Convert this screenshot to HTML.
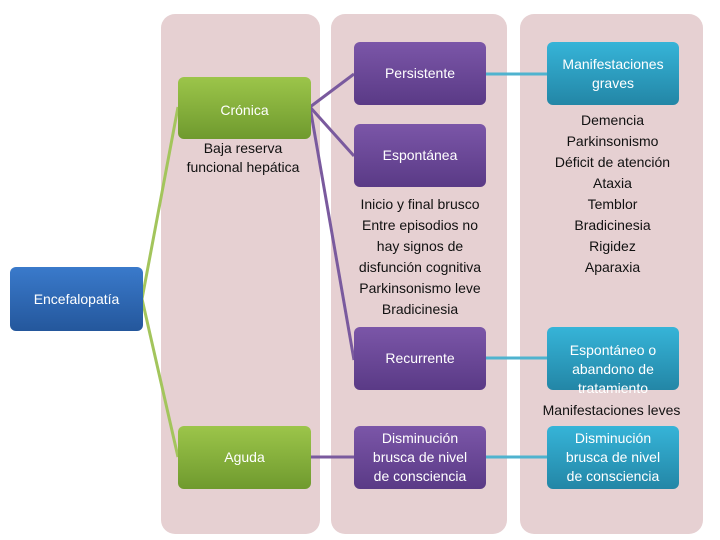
<!DOCTYPE html>
<html><head><meta charset="utf-8"><style>
body{margin:0;width:720px;height:540px;background:#fff;position:relative;overflow:hidden;font-family:"Liberation Sans",sans-serif;}
.p{position:absolute;background:#e6d0d2;border-radius:14px;}
.b{position:absolute;border-radius:6px;color:#fff;display:flex;align-items:center;justify-content:center;text-align:center;font-size:14px;line-height:19px;}
.g{background:linear-gradient(#9cc54a,#6f9a2e);}
.u{background:linear-gradient(#7b56a8,#5a3a86);}
.t{background:linear-gradient(#36b4d8,#2386a6);}
.bl{background:linear-gradient(#3a7acb,#24579c);}
.x{position:absolute;text-align:center;font-size:14px;line-height:21px;color:#111;}
</style></head><body>
<div class="p" style="left:161px;top:14px;width:159px;height:520px"></div>
<div class="p" style="left:331px;top:14px;width:176px;height:520px"></div>
<div class="p" style="left:520px;top:14px;width:183px;height:520px"></div>
<svg style="position:absolute;left:0;top:0" width="720" height="540">
<g stroke="#a3c55c" stroke-width="3" fill="none"><polyline points="178,107 142,299 178,457"/></g>
<g stroke="#7a5a9e" stroke-width="3" fill="none"><line x1="310" y1="107" x2="354" y2="74"/><line x1="310" y1="107" x2="354" y2="156"/><line x1="310" y1="107" x2="354" y2="360"/><line x1="310" y1="457" x2="354" y2="457"/></g>
<g stroke="#4fb3cf" stroke-width="3"><line x1="486" y1="74" x2="547" y2="74"/><line x1="486" y1="358" x2="547" y2="358"/><line x1="486" y1="457" x2="547" y2="457"/></g>
</svg>
<div class="b bl" style="left:10px;top:267px;width:133px;height:64px">Encefalopatía</div>
<div class="b g" style="left:178px;top:77px;width:133px;height:62px;align-items:flex-start;padding-top:24px;box-sizing:border-box">Crónica</div>
<div class="x" style="left:168px;top:139px;width:150px;line-height:19px">Baja reserva<br>funcional hepática</div>
<div class="b g" style="left:178px;top:426px;width:133px;height:63px">Aguda</div>
<div class="b u" style="left:354px;top:42px;width:132px;height:63px">Persistente</div>
<div class="b u" style="left:354px;top:124px;width:132px;height:63px">Espontánea</div>
<div class="x" style="left:338px;top:194px;width:164px">Inicio y final brusco<br>Entre episodios no<br>hay signos de<br>disfunción cognitiva<br>Parkinsonismo leve<br>Bradicinesia</div>
<div class="b u" style="left:354px;top:327px;width:132px;height:63px">Recurrente</div>
<div class="b u" style="left:354px;top:426px;width:132px;height:63px">Disminución<br>brusca de nivel<br>de consciencia</div>
<div class="b t" style="left:547px;top:42px;width:132px;height:63px">Manifestaciones<br>graves</div>
<div class="x" style="left:530px;top:110px;width:165px">Demencia<br>Parkinsonismo<br>Déficit de atención<br>Ataxia<br>Temblor<br>Bradicinesia<br>Rigidez<br>Aparaxia</div>
<div class="b t" style="left:547px;top:327px;width:132px;height:63px;align-items:flex-start;padding-top:14px;box-sizing:border-box">Espontáneo o<br>abandono de<br>tratamiento</div>
<div class="x" style="left:520px;top:400px;width:183px">Manifestaciones leves</div>
<div class="b t" style="left:547px;top:426px;width:132px;height:63px">Disminución<br>brusca de nivel<br>de consciencia</div>
</body></html>
